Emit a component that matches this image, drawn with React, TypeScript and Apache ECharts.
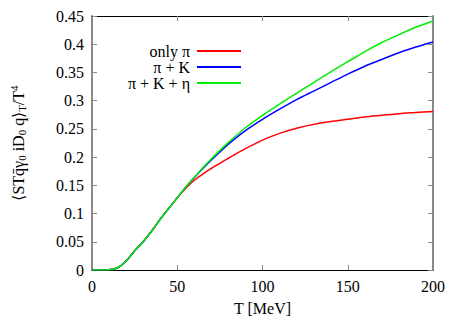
import React, { useEffect, useRef } from "react";
import * as echarts from "echarts";

const temps = [0, 5, 10, 15, 20, 25, 30, 35, 40, 45, 50, 55, 60, 65, 70, 75, 80, 90, 100, 110, 120, 130, 140, 150, 160, 170, 180, 190, 200];
const onlyPi = [0, 0, 0.0003, 0.004, 0.016, 0.034, 0.05, 0.069, 0.09, 0.109, 0.128, 0.145, 0.159, 0.17, 0.18, 0.189, 0.198, 0.215, 0.23, 0.242, 0.251, 0.258, 0.263, 0.267, 0.271, 0.274, 0.277, 0.279, 0.281];
const piK = [0, 0, 0.0003, 0.004, 0.016, 0.034, 0.05, 0.069, 0.09, 0.109, 0.128, 0.147, 0.164, 0.18, 0.195, 0.209, 0.223, 0.247, 0.267, 0.285, 0.302, 0.317, 0.332, 0.347, 0.361, 0.373, 0.385, 0.395, 0.404];
const piKEta = [0, 0, 0.0003, 0.004, 0.016, 0.034, 0.05, 0.069, 0.09, 0.109, 0.128, 0.147, 0.164, 0.181, 0.197, 0.212, 0.226, 0.252, 0.274, 0.294, 0.313, 0.332, 0.351, 0.369, 0.387, 0.403, 0.417, 0.43, 0.441];
const seriesNames = ["only \u03c0", "\u03c0 + K", "\u03c0 + K + \u03b7"];
const seriesColors = ["#ff0000", "#0000ff", "#00ee00"];
const xTicks = [0, 50, 100, 150, 200];
const yTicks = [0, 0.05, 0.1, 0.15, 0.2, 0.25, 0.3, 0.35, 0.4, 0.45];

const FONT = "Liberation Serif";

export default function App() {
  const ref = useRef<HTMLDivElement>(null);
  useEffect(() => {
    if (!ref.current) return;
    const chart = echarts.init(ref.current, null, { renderer: "svg" });
    const allData = [onlyPi, piK, piKEta];
    const mkX = (pos: "bottom" | "top", show: boolean) => ({
      type: "value",
      position: pos,
      min: xTicks[0],
      max: xTicks[xTicks.length - 1],
      interval: 50,
      axisLine: { show: true, onZero: false, lineStyle: { color: "#000", width: 1 } },
      axisTick: { show: true, inside: true, length: 5, lineStyle: { color: "#888" } },
      axisLabel: {
        show,
        color: "#000",
        fontFamily: FONT,
        fontSize: 16,
        margin: 8,
        formatter: (v: number) => String(v),
      },
      splitLine: { show: false },
      name: show ? "T [MeV]" : "",
      nameLocation: "middle",
      nameGap: 30,
      nameTextStyle: { color: "#000", fontFamily: FONT, fontSize: 16 },
    });
    const mkY = (pos: "left" | "right", show: boolean) => ({
      type: "value",
      position: pos,
      min: yTicks[0],
      max: yTicks[yTicks.length - 1],
      interval: 0.05,
      axisLine: { show: true, onZero: false, lineStyle: { color: "#888", width: 2 } },
      axisTick: { show: true, inside: true, length: 5, lineStyle: { color: "#888" } },
      axisLabel: {
        show,
        color: "#000",
        fontFamily: FONT,
        fontSize: 16,
        margin: 8,
        formatter: (v: number) => String(Math.round(v * 100) / 100),
      },
      splitLine: { show: false },
    });
    chart.setOption({
      animation: false,
      grid: { left: 92, right: 30, top: 16, bottom: 54, containLabel: false },
      xAxis: [mkX("bottom", true), mkX("top", false)],
      yAxis: [mkY("left", true), mkY("right", false)],
      legend: {
        orient: "vertical",
        align: "right",
        right: 217,
        top: 38,
        icon: "rect",
        itemWidth: 44,
        itemHeight: 2,
        itemGap: 0,
        textStyle: { color: "#000", fontFamily: FONT, fontSize: 16, lineHeight: 15, padding: [0, 2, 0, 0] },
        data: seriesNames,
      },
      series: seriesNames.map((name, i) => ({
        name,
        type: "line",
        xAxisIndex: 0,
        yAxisIndex: 0,
        symbol: "none",
        smooth: 0.3,
        color: seriesColors[i],
        lineStyle: { color: seriesColors[i], width: 1.5 },
        data: temps.map((t, j) => [t, allData[i][j]]),
        z: 3 + i,
      })),
      graphic: [
        {
          type: "text",
          x: 18,
          y: 143,
          rotation: Math.PI / 2,
          style: {
            text: "\u27e8STq\u0304\u03b3{s|0} iD{s|0} q\u27e9{s|T}/T{p|4}",
            fontFamily: FONT,
            fontSize: 16,
            fill: "#000",
            align: "center",
            verticalAlign: "middle",
            rich: {
              s: { fontFamily: FONT, fontSize: 11, fill: "#000", padding: [8, 0, 0, 0] },
              p: { fontFamily: FONT, fontSize: 11, fill: "#000", padding: [0, 0, 8, 0] },
            },
          },
        },
      ],
    });
    return () => chart.dispose();
  }, []);
  return <div ref={ref} style={{ width: 463, height: 324, position: "absolute", left: 0, top: 0 }} />;
}
